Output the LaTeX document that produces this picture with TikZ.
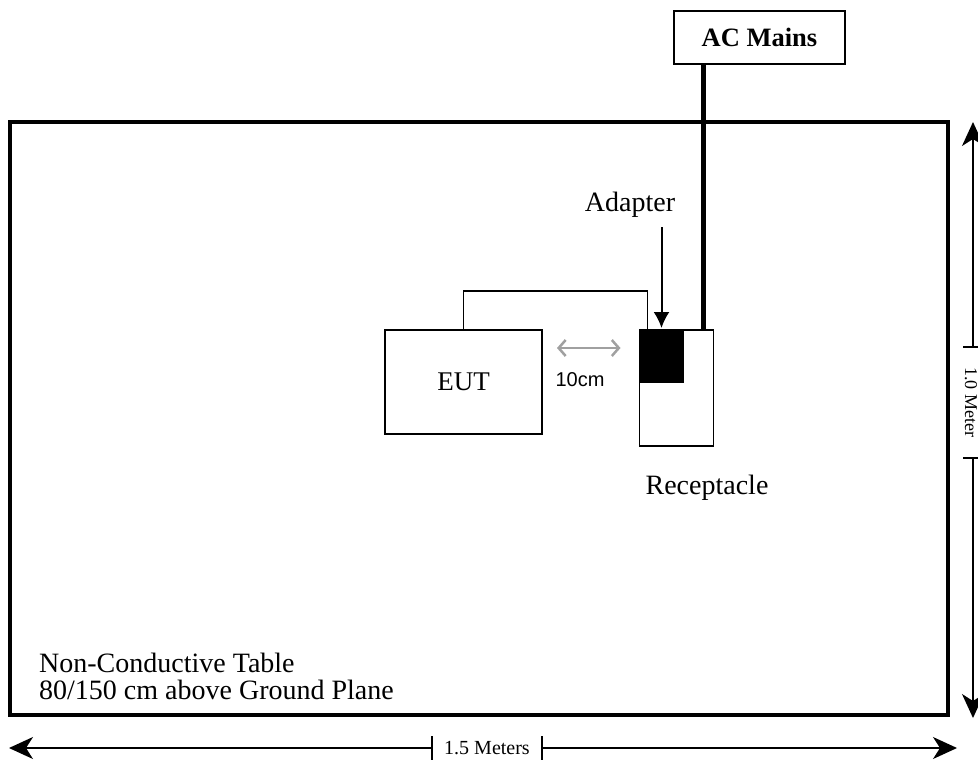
\documentclass[tikz,border=0pt]{standalone}
\usepackage{fontspec}
\setmainfont{Liberation Serif}
\newfontfamily\armsans{Liberation Sans}
\usetikzlibrary{arrows.meta,positioning,calc}
\definecolor{gapgray}{RGB}{160,160,160}
\tikzset{unit/.style={draw,line width=1.5pt,inner sep=0pt,outer sep=0pt},
lab/.style={font=\fontsize{28}{28}\selectfont,inner sep=0pt},
dimlab/.style={font=\fontsize{19}{19}\selectfont,inner sep=0pt},
cord/.style={line width=1.5pt},
power/.style={line width=4.5pt},
meas/.style={line width=1.5pt,-{Stealth[length=24pt,width=22pt,inset=7pt]}},
dimtick/.style={line width=1.5pt},
gaparrow/.style={line width=2.5pt,gapgray,
  {Straight Barb[length=7pt,width=16pt]}-{Straight Barb[length=7pt,width=16pt]}}}

\begin{document}
\begin{tikzpicture}[x=1pt,y=-1pt]
\useasboundingbox (0,0) rectangle (978,761);
% table and units
\node[unit,line width=3.5pt,minimum width=938pt,minimum height=593pt] (table) at (479,418.5) {};
\node[unit,minimum width=171pt,minimum height=53pt,
  font=\bfseries\fontsize{26.5}{26.5}\selectfont] (mains) at (759.5,37.5) {AC Mains};
\node[unit,minimum width=157pt,minimum height=104pt,
  font=\fontsize{27}{27}\selectfont] (eut) at (463.5,382) {EUT};
\node[unit,minimum width=74pt,minimum height=116pt] (recep) at (676.5,388) {};
\node[unit,fill=black,minimum width=44pt,minimum height=52pt,anchor=north west] (adapter) at (recep.north west) {};
% labels
\node[lab,anchor=base] (adlab) at (630,211) {Adapter};
\node[lab,anchor=base] (reclab) at (707,494) {Receptacle};
\node[lab,anchor=base west] (tabnote) at (39,672) {Non-Conductive Table};
\node[lab,anchor=base west] (tabnote2) at ($(tabnote.base west)+(0,27)$) {80/150 cm above Ground Plane};
\node[font=\armsans\fontsize{20}{20}\selectfont,inner sep=0pt] (gaplab) at (580,380) {10cm};
% cables
\coordinate (plug) at ($(recep.north east)+(-10,0)$);
\draw[power] (plug |- mains.south) -- (plug);
\coordinate (lead) at ($(adapter.north west)+(8,0)$);
\draw[cord] (eut.north) -- ++(0,-39) -| (lead);
\draw[line width=2pt,-{Latex[length=16pt,width=16pt]},shorten >=2pt] ($(adapter.north)+(0,-103)$) -- (adapter.north);
\draw[gaparrow] ($(eut.north east)+(15,18)$) -- ($(recep.north west)+(-19,18)$);
% dimensions
\coordinate (wl) at (432,748);
\coordinate (wr) at (542,748);
\draw[meas] (wl) -- (9,748);
\draw[meas] (wr) -- (957,748);
\draw[dimtick] ($(wl)+(0,-12)$) -- ($(wl)+(0,12)$);
\draw[dimtick] ($(wr)+(0,-12)$) -- ($(wr)+(0,12)$);
\node[dimlab,font=\fontsize{20}{20}\selectfont] (wlab) at ($(wl)!0.5!(wr)$) {1.5 Meters};
\coordinate (ht) at (973,347);
\coordinate (hb) at (973,458);
\draw[meas] (ht) -- (973,122);
\draw[meas] (hb) -- (973,718);
\draw[dimtick] ($(ht)+(-10,0)$) -- ($(ht)+(6,0)$);
\draw[dimtick] ($(hb)+(-10,0)$) -- ($(hb)+(6,0)$);
\node[dimlab,font=\fontsize{18}{18}\selectfont,rotate=-90] (hlab) at (971,402) {1.0 Meter};
\end{tikzpicture}
\end{document}
